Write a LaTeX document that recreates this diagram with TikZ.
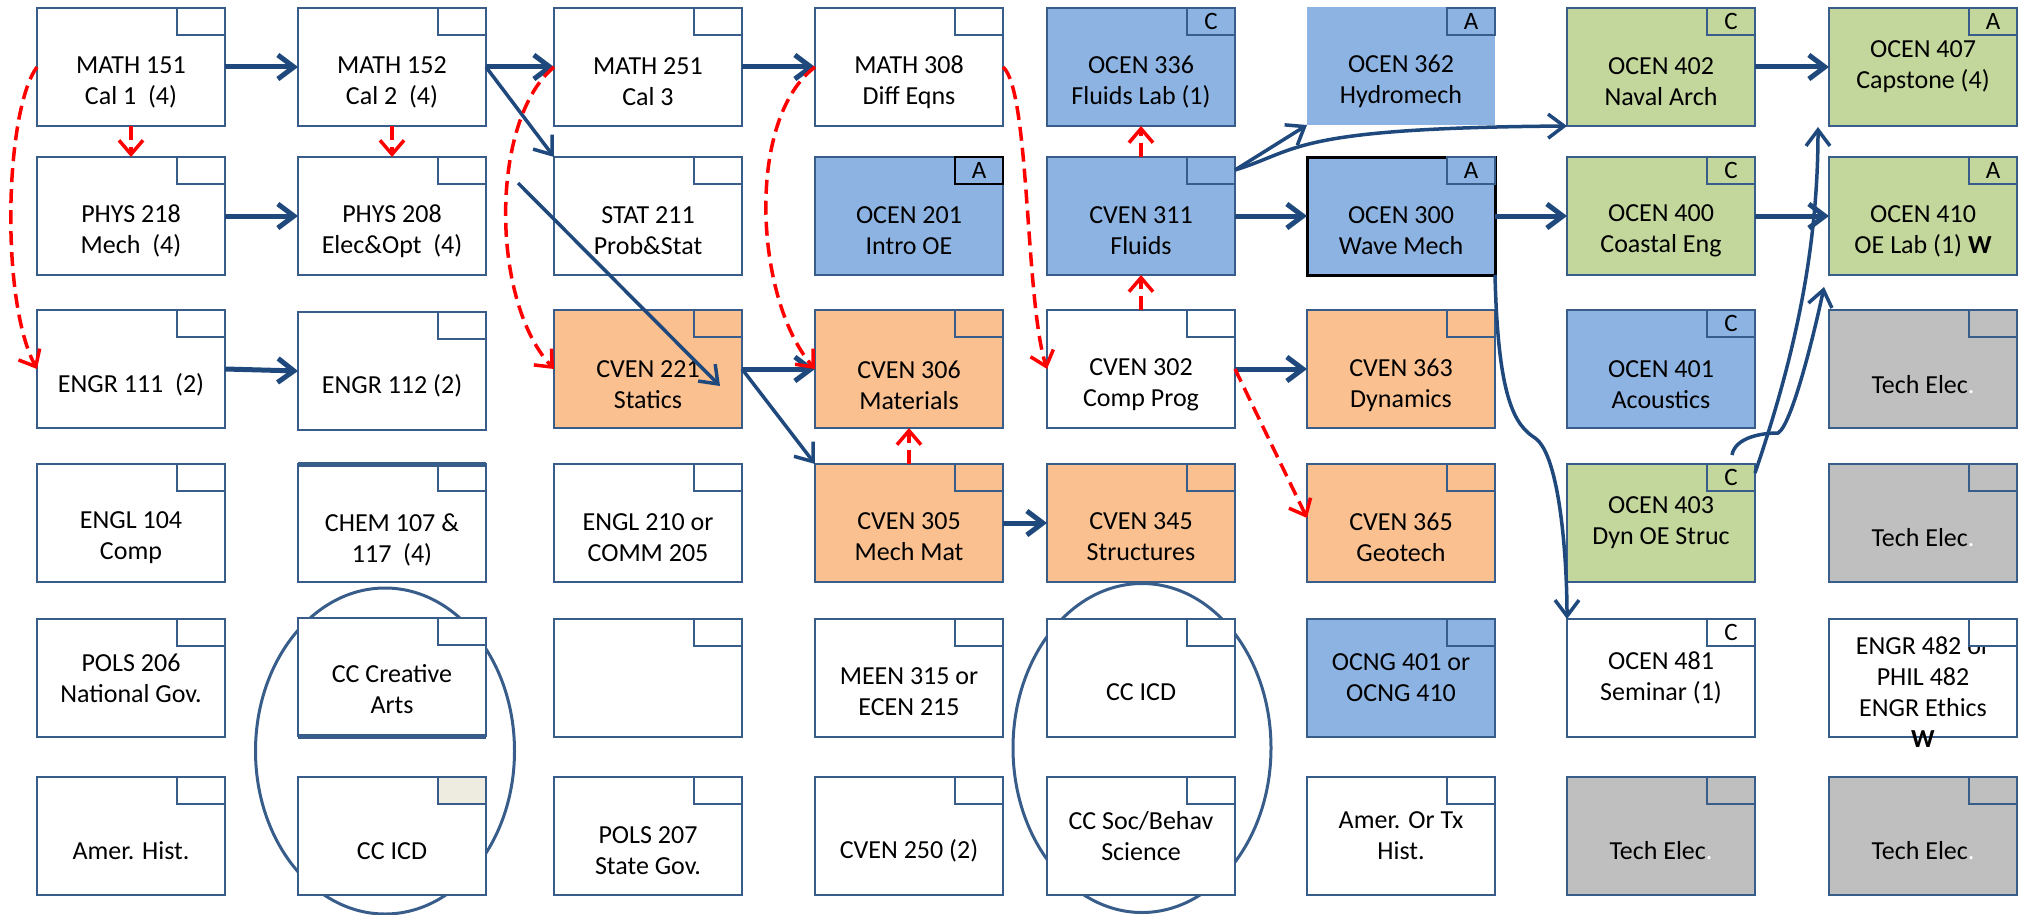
\documentclass[tikz,border=0pt]{standalone}
\usepackage{fontspec}
\setmainfont{Carlito}
\usetikzlibrary{arrows.meta,calc,shapes.geometric}
\definecolor{bcol}{RGB}{56,93,138}
\definecolor{acol}{RGB}{31,73,125}
\definecolor{bfill}{RGB}{141,179,226}
\definecolor{ofill}{RGB}{250,192,144}
\definecolor{gfill}{RGB}{195,214,155}
\definecolor{grfill}{RGB}{191,191,191}
\definecolor{tfill}{RGB}{238,236,225}
\tikzset{
 crsbox/.style={draw=bcol, line width=2.5pt, minimum width=188pt, minimum height=118pt, inner sep=0pt, outer sep=0pt},
 crstxt/.style={align=center, font=\fontsize{26}{31}\selectfont, inner sep=0pt},
 tabbox/.style={draw=bcol, line width=2.5pt, minimum width=48pt, minimum height=27pt, inner sep=0pt, outer sep=0pt, font=\fontsize{25}{27}\selectfont, anchor=north east},
 barrowh/.style={draw=acol, line width=5pt, -{Straight Barb[length=16pt,width=24pt]}},
 barrow/.style={draw=acol, line width=3.5pt, -{Straight Barb[length=16pt,width=24pt]}},
 rarrow/.style={draw=red, line width=3.5pt, dash pattern=on 14pt off 7pt, -{Straight Barb[length=14pt,width=24pt]}},
 ring/.style={draw=bcol, line width=3pt, ellipse, inner sep=0pt, outer sep=0pt},
}
\newcommand\mkcourse[6]{%
 \node[crsbox,fill=#4] (#1) at ({#2+94},{#3+59}) {};
 \node[crstxt] (#1-t) at ($(#1.center)+(0,#6)$) {#5};}
\newcommand\mktab[3]{\node[tabbox,fill=#2] (#1-tab) at (#1.north east) {#3};}
\begin{document}
\begin{tikzpicture}[x=1pt,y=-1pt]
\useasboundingbox (0,0) rectangle (2028,915);
% group ellipses
\node[ring, minimum width=259pt, minimum height=326pt] (grpA) at (385,751) {};
\node[ring, minimum width=258pt, minimum height=329pt] (grpB) at (1142,748) {};
% row 1
\mkcourse{m151}{37}{8}{white}{MATH 151\\Cal 1\ \ (4)}{15}\mktab{m151}{white}{}
\mkcourse{m152}{298}{8}{white}{MATH 152\\Cal 2\ \ (4)}{15}\mktab{m152}{white}{}
\mkcourse{m251}{554}{8}{white}{MATH 251\\Cal 3}{15}\mktab{m251}{white}{}
\mkcourse{m308}{815}{8}{white}{MATH 308\\Diff Eqns}{15}\mktab{m308}{white}{}
\mkcourse{o336}{1047}{8}{bfill}{OCEN 336\\Fluids Lab (1)}{15}\mktab{o336}{bfill}{C}
\node[crsbox,draw=none,fill=bfill] (o362) at (1401,66) {};
\node[crstxt] (o362-t) at ($(o362.center)+(0,15)$) {OCEN 362\\Hydromech};
\node[tabbox,fill=bfill] (o362-tab) at ($(o362.north east)+(0,1)$) {A};
\mkcourse{o402}{1567}{8}{gfill}{OCEN 402\\Naval Arch}{15}\mktab{o402}{gfill}{C}
\mkcourse{o407}{1829}{8}{gfill}{OCEN 407\\Capstone (4)}{0}\mktab{o407}{gfill}{A}
% row 2
\mkcourse{p218}{37}{157}{white}{PHYS 218\\Mech\ \ (4)}{15}\mktab{p218}{white}{}
\mkcourse{p208}{298}{157}{white}{PHYS 208\\Elec\&Opt\ \ (4)}{15}\mktab{p208}{white}{}
\mkcourse{s211}{554}{157}{white}{STAT 211\\Prob\&Stat}{15}\mktab{s211}{white}{}
\mkcourse{o201}{815}{157}{bfill}{OCEN 201\\Intro OE}{15}
\node[tabbox,fill=bfill,draw=black] (o201-tab) at (o201.north east) {A};
\mkcourse{c311}{1047}{157}{bfill}{CVEN 311\\Fluids}{15}\mktab{c311}{bfill}{}
\node[crsbox,fill=bfill,draw=black,line width=3pt] (o300) at (1401,216) {};
\node[crstxt] (o300-t) at ($(o300.center)+(0,15)$) {OCEN 300\\Wave Mech};
\mktab{o300}{bfill}{A}
\mkcourse{o400}{1567}{157}{gfill}{OCEN 400\\Coastal Eng}{15}\mktab{o400}{gfill}{C}
\mkcourse{o410}{1829}{157}{gfill}{OCEN 410\\OE Lab (1) \textbf{W}}{15}\mktab{o410}{gfill}{A}
% row 3
\mkcourse{e111}{37}{310}{white}{ENGR 111\ \ (2)}{16}\mktab{e111}{white}{}
\mkcourse{e112}{298}{312}{white}{ENGR 112 (2)}{15}\mktab{e112}{white}{}
\mkcourse{c221}{554}{310}{ofill}{CVEN 221\\Statics}{16}\mktab{c221}{ofill}{}
\mkcourse{c306}{815}{310}{ofill}{CVEN 306\\Materials}{16}\mktab{c306}{ofill}{}
\mkcourse{c302}{1047}{310}{white}{CVEN 302\\Comp Prog}{16}\mktab{c302}{white}{}
\mkcourse{c363}{1307}{310}{ofill}{CVEN 363\\Dynamics}{16}\mktab{c363}{ofill}{}
\mkcourse{o401}{1567}{310}{bfill}{OCEN 401\\Acoustics}{16}\mktab{o401}{bfill}{C}
\mkcourse{te1}{1829}{310}{grfill}{Tech Elec{\color{white}.}}{16}\mktab{te1}{grfill}{}
% row 4
\mkcourse{en104}{37}{464}{white}{ENGL 104\\Comp}{15}\mktab{en104}{white}{}
\mkcourse{ch107}{298}{464}{white}{CHEM 107 \&\\117\ \ (4)}{17}\mktab{ch107}{white}{}
\draw[bcol,line width=5pt] (ch107.north west) -- (ch107.north east);
\mkcourse{en210}{554}{464}{white}{ENGL 210 or\\COMM 205}{15}\mktab{en210}{white}{}
\mkcourse{c305}{815}{464}{ofill}{CVEN 305\\Mech Mat}{14}\mktab{c305}{ofill}{}
\mkcourse{c345}{1047}{464}{ofill}{CVEN 345\\Structures}{14}\mktab{c345}{ofill}{}
\mkcourse{c365}{1307}{464}{ofill}{CVEN 365\\Geotech}{14}\mktab{c365}{ofill}{}
\mkcourse{o403}{1567}{464}{gfill}{OCEN 403\\Dyn OE Struc}{0}\mktab{o403}{gfill}{C}
\mkcourse{te2}{1829}{464}{grfill}{Tech Elec{\color{white}.}}{15}\mktab{te2}{grfill}{}
% row 5
\mkcourse{po206}{37}{619}{white}{POLS 206\\National Gov.}{0}\mktab{po206}{white}{}
\mkcourse{ccca}{298}{618}{white}{CC Creative\\Arts}{12}\mktab{ccca}{white}{}
\draw[bcol,line width=5pt] (ccca.south west) -- (ccca.south east);
\mkcourse{blank}{554}{619}{white}{}{0}\mktab{blank}{white}{}
\mkcourse{me315}{815}{619}{white}{MEEN 315 or\\ECEN 215}{14}\mktab{me315}{white}{}
\mkcourse{ccicd}{1047}{619}{white}{CC ICD}{14}\mktab{ccicd}{white}{}
\mkcourse{ocng}{1307}{619}{bfill}{OCNG 401 or\\OCNG 410}{0}\mktab{ocng}{bfill}{}
\mkcourse{o481}{1567}{619}{white}{OCEN 481\\Seminar (1)}{0}\mktab{o481}{white}{C}
\mkcourse{e482}{1829}{619}{white}{ENGR 482 or\\PHIL 482\\ENGR Ethics\\\textbf{W}}{14}\mktab{e482}{white}{}
% row 6
\mkcourse{ah}{37}{777}{white}{Amer. Hist.}{15}\mktab{ah}{white}{}
\mkcourse{ccicdb}{298}{777}{white}{CC ICD}{15}\mktab{ccicdb}{tfill}{}
\mkcourse{po207}{554}{777}{white}{POLS 207\\State Gov.}{15}\mktab{po207}{white}{}
\mkcourse{c250}{815}{777}{white}{CVEN 250 (2)}{15}\mktab{c250}{white}{}
\mkcourse{ccsb}{1047}{777}{white}{CC Soc/Behav\\Science}{0}\mktab{ccsb}{white}{}
\mkcourse{atx}{1307}{777}{white}{Amer. Or Tx\\Hist.}{0}\mktab{atx}{white}{}
\mkcourse{te3}{1567}{777}{grfill}{Tech Elec{\color{white}.}}{15}\mktab{te3}{grfill}{}
\mkcourse{te4}{1829}{777}{grfill}{Tech Elec{\color{white}.}}{15}\mktab{te4}{grfill}{}
% blue prerequisite arrows
\draw[barrowh] (m151.east) -- (m152.west);
\draw[barrowh] (m152.east) -- (m251.west);
\draw[barrow] (m152.east) -- (s211.north west);
\draw[barrowh] (m251.east) -- (m308.west);
\draw[barrowh] (p218.east) -- (p208.west);
\draw[barrowh] (e111.east) -- (e112.west);
\coordinate (d1) at (518,183);
\coordinate (d2) at (720,386);
\draw[barrow] (d1) -- (d2);
\draw[barrowh] (c221.east) -- (c306.west);
\draw[barrow] (c221.east) -- (c305.north west);
\draw[barrowh] (c305.east) -- (c345.west);
\draw[barrowh] (c302.east) -- (c363.west);
\draw[barrowh] (c311.east) -- (o300.west);
\coordinate (c311x) at ($(c311.north east)+(0,13)$);
\draw[barrow] (c311x) -- (o362.south west);
\draw[barrow] (c311x) .. controls (1300,150) and (1290,128) .. (o402.south west);
\draw[barrowh] (o300.east) -- (o400.west);
\draw[barrowh] (o402.east) -- (o407.west);
\draw[barrowh] (o400.east) -- (o410.west);
\coordinate (bend300) at (1535,438);
\draw[barrow] (o300.south east) .. controls (1498,400) and (1515,425) .. (bend300) .. controls (1560,455) and (1567,560) .. (o481.north west);
\coordinate (s403a) at ($(o403.north east)+(0,9)$);
\coordinate (t407) at ($(o407.south west)+(-11,1)$);
\draw[barrow] (s403a) .. controls (1790,370) and (1818,260) .. (t407);
\coordinate (s403b) at (1732,455);
\coordinate (curl) at (1778,433);
\coordinate (t410) at ($(o410.south west)+(-5,12)$);
\draw[barrow] (s403b) .. controls (1735,438) and (1760,433) .. (curl) .. controls (1792,425) and (1815,330) .. (t410);
% red dashed arrows
\draw[rarrow] (m151.west) .. controls (5,110) and (0,300) .. (e111.west);
\draw[rarrow] (m151.south) -- (p218.north);
\draw[rarrow] (m152.south) -- (p208.north);
\draw[rarrow] (m251.west) .. controls (490,120) and (490,300) .. (c221.west);
\draw[rarrow] (m308.west) .. controls (745,120) and (755,300) .. (c306.west);
\draw[rarrow] (m308.east) .. controls (1030,90) and (1025,300) .. (c302.west);
\draw[rarrow] (c311.north) -- (o336.south);
\draw[rarrow] (c302.north) -- (c311.south);
\draw[rarrow] (c305.north) -- (c306.south);
\draw[rarrow] (c302.east) -- ($(c365.west)+(0,-5)$);
\end{tikzpicture}
\end{document}
